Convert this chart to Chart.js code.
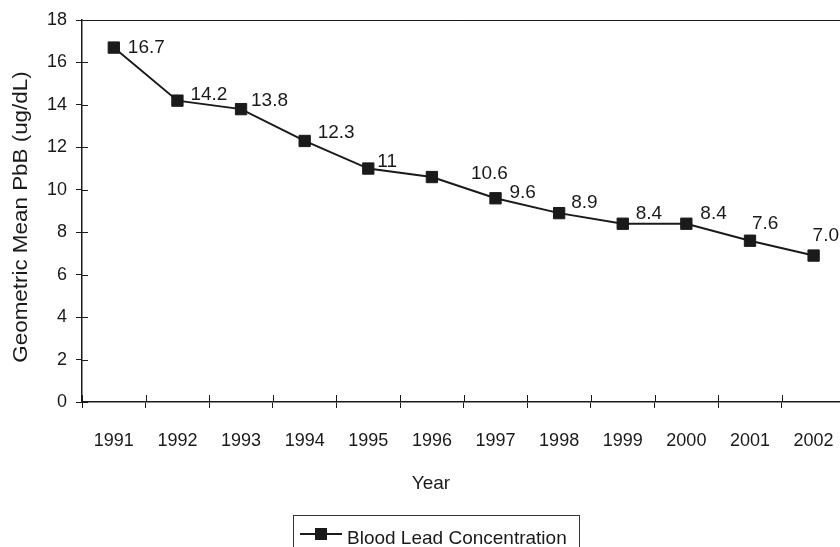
<!DOCTYPE html>
<html>
<head>
<meta charset="utf-8">
<script src="https://cdn.jsdelivr.net/npm/chart.js@4.4.1/dist/chart.umd.min.js"></script>
<style>
  html, body { margin: 0; padding: 0; overflow: hidden; background: #fff; }
</style>
</head>
<body>
<canvas id="leadChart" width="856" height="547"></canvas>
<script>
const years = ['1991', '1992', '1993', '1994', '1995', '1996', '1997', '1998', '1999', '2000', '2001', '2002'];
const meanPbB = [16.7, 14.2, 13.8, 12.3, 11.0, 10.6, 9.6, 8.9, 8.4, 8.4, 7.6, 6.9];
const pointLabels = ['16.7', '14.2', '13.8', '12.3', '11', '10.6', '9.6', '8.9', '8.4', '8.4', '7.6', '7.0'];
const yTicks = [0, 2, 4, 6, 8, 10, 12, 14, 16, 18];

const FONT = '"Liberation Sans", Arial, sans-serif';
const INK = '#1a1a1a';

// value labels next to each marker
const valueLabels = {
    id: 'valueLabels',
    afterDatasetsDraw(chart, args, opts) {
        const ctx = chart.ctx;
        const meta = chart.getDatasetMeta(0);
        ctx.save();
        ctx.font = '19px ' + FONT;
        ctx.fillStyle = INK;
        ctx.textBaseline = 'middle';
        ctx.textAlign = 'left';
        meta.data.forEach((pt, i) => {
            const [dx, dy] = opts.offsets[i];
            ctx.fillText(pointLabels[i], pt.x + dx, pt.y + dy);
        });
        ctx.restore();
    }
};

// tick marks that cross the axes, axis titles and boxed legend
const axisExtras = {
    id: 'axisExtras',
    afterDraw(chart) {
        const { ctx, chartArea: a, scales: { x, y } } = chart;
        ctx.save();
        ctx.strokeStyle = INK;
        ctx.lineWidth = 1;
        ctx.beginPath();
        const step = x.width / years.length;
        for (let i = 0; i <= years.length; i++) {
            const px = Math.round(x.getPixelForValue(0) - step / 2 + i * step) + 0.5;
            ctx.moveTo(px, a.bottom);
            ctx.lineTo(px, a.bottom - 7);
        }
        yTicks.forEach(v => {
            const py = Math.round(y.getPixelForValue(v)) + 0.5;
            ctx.moveTo(a.left, py);
            ctx.lineTo(a.left + 6, py);
        });
        ctx.stroke();

        ctx.fillStyle = INK;
        ctx.font = '19px ' + FONT;
        ctx.textAlign = 'center';
        ctx.textBaseline = 'alphabetic';
        ctx.fillText('Year', 431, 489);

        // y title, stretched along its length like the original
        ctx.save();
        ctx.translate(27, (a.top + a.bottom) / 2 + 6);
        ctx.rotate(-Math.PI / 2);
        ctx.scale(1.12, 1);
        ctx.font = '20px ' + FONT;
        ctx.fillText('Geometric Mean PbB (ug/dL)', 0, 0);
        ctx.restore();

        // legend
        ctx.strokeStyle = '#333';
        ctx.lineWidth = 1;
        ctx.strokeRect(293.5, 515.5, 286, 60);
        ctx.strokeStyle = INK;
        ctx.lineWidth = 2;
        ctx.beginPath();
        ctx.moveTo(300, 534);
        ctx.lineTo(342, 534);
        ctx.stroke();
        ctx.fillRect(315, 528, 12, 12);
        ctx.textAlign = 'left';
        ctx.fillText(chart.data.datasets[0].label, 347, 544);
        ctx.restore();
    }
};

new Chart(document.getElementById('leadChart'), {
    type: 'line',
    data: {
        labels: years,
        datasets: [{
            label: 'Blood Lead Concentration',
            data: meanPbB,
            borderColor: INK,
            borderWidth: 2,
            tension: 0,
            pointStyle: 'rect',
            pointRadius: 8,
            pointBorderWidth: 1,
            pointBackgroundColor: INK,
            pointBorderColor: INK,
            clip: false
        }]
    },
    options: {
        responsive: false,
        devicePixelRatio: 1,
        animation: false,
        layout: { padding: { top: 20, left: 0, right: 0, bottom: 0 } },
        plugins: {
            legend: { display: false },
            tooltip: { enabled: false },
            valueLabels: {
                offsets: [[14, 0], [13, -6], [10, -8], [13, -8], [9, -7], [39, -3],
                          [14, -6], [12, -10], [13, -10], [14, -10], [2, -17], [-1, -20]]
            }
        },
        scales: {
            x: {
                type: 'category',
                offset: true,
                afterFit: s => { s.height = 145; },
                grid: { offset: true, drawOnChartArea: false, tickLength: 6, color: INK },
                border: { color: INK, width: 1.5 },
                ticks: {
                    padding: 22, maxRotation: 0, autoSkip: false,
                    color: INK, font: { family: FONT, size: 18 }
                }
            },
            y: {
                min: 0,
                max: 18,
                afterFit: s => { s.width = 82; },
                afterBuildTicks: s => { s.ticks = yTicks.map(v => ({ value: v })); },
                grid: {
                    color: c => (c.tick && c.tick.value === 18 ? INK : 'rgba(0,0,0,0)'),
                    tickColor: INK,
                    tickLength: 6
                },
                border: { color: INK, width: 1.5 },
                ticks: { padding: 9, color: INK, font: { family: FONT, size: 18 } }
            }
        }
    },
    plugins: [valueLabels, axisExtras]
});
</script>
</body>
</html>
